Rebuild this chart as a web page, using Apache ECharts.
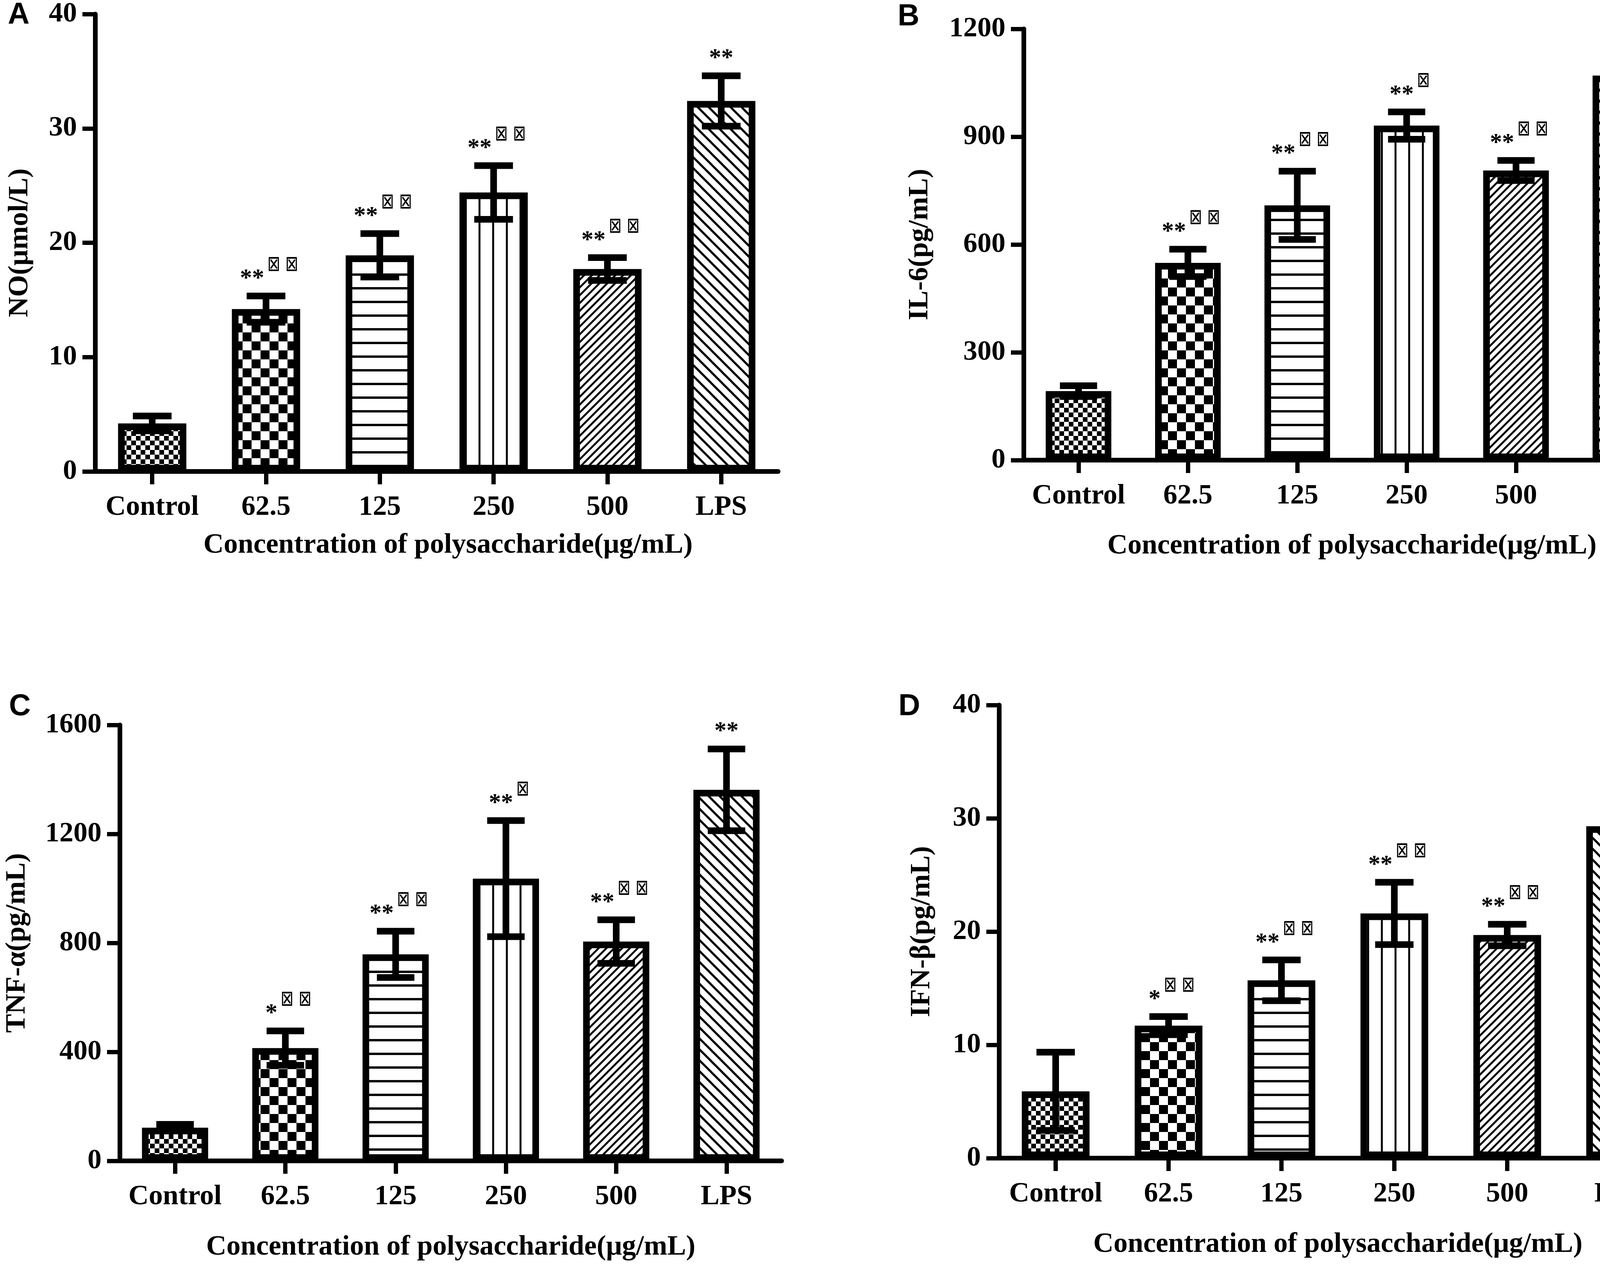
<!DOCTYPE html>
<html><head><meta charset="utf-8">
<script src="https://cdn.jsdelivr.net/npm/echarts@6/dist/echarts.min.js"></script>
<style>html,body{margin:0;padding:0;background:#fff}#c{width:4317px;height:3236px}</style>
</head><body><div id="c"></div>
<script>
// ---- data ----
const categories = ['Control', '62.5', '125', '250', '500', 'LPS'];
const xTitle = 'Concentration of polysaccharide(μg/mL)';

const noMean = [4.2, 14.2, 18.9, 24.4, 17.7, 32.4];
const noErr = [0.65, 1.15, 1.9, 2.35, 1.0, 2.2];
const noStars = ['', '**', '**', '**', '**', '**'];
const noMarks = ['', '⊠ ⊠', '⊠ ⊠', '⊠ ⊠', '⊠ ⊠', ''];

const il6Mean = [192, 549, 709, 931, 806, 1070];
const il6Err = [15, 38, 95, 38, 28, 103];
const il6Stars = ['', '**', '**', '**', '**', '**'];
const il6Marks = ['', '⊠ ⊠', '⊠ ⊠', '⊠', '⊠ ⊠', ''];

const tnfMean = [122, 414, 758, 1036, 805, 1362];
const tnfErr = [12, 63, 85, 213, 80, 150];
const tnfStars = ['', '*', '**', '**', '**', '**'];
const tnfMarks = ['', '⊠ ⊠', '⊠ ⊠', '⊠', '⊠ ⊠', ''];

const ifnMean = [5.9, 11.7, 15.7, 21.6, 19.7, 29.3];
const ifnErr = [3.45, 0.8, 1.8, 2.75, 0.95, 1.7];
const ifnStars = ['', '*', '**', '**', '**', '**'];
const ifnMarks = ['', '⊠ ⊠', '⊠ ⊠', '⊠ ⊠', '⊠ ⊠', ''];

const yNames = ['NO(μmol/L)', 'IL-6(pg/mL)', 'TNF-α(pg/mL)', 'IFN-β(pg/mL)'];
const yMax = [40, 1200, 1600, 40];
const yInterval = [10, 300, 400, 10];
const panelLetters = ['A', 'B', 'C', 'D'];

// ---- styling ----
const SERIF = '"Liberation Serif", "Times New Roman", serif';
const grids = [
  { left: 244, top: 33, width: 1748, height: 1174 },
  { left: 2621, top: 74, width: 1680, height: 1104 },
  { left: 307, top: 1856, width: 1694, height: 1116 },
  { left: 2558, top: 1805, width: 1734, height: 1160 }
];
const yNameGap = [157, 230, 227, 162];
const xNameGap = [153, 184, 185, 185];
const xNamePad = [[0, 0, 0, 58], 0, 0, 0];
const letterPos = [[20, 40], [2298, 44], [23, 1810], [2300, 1810]];

function tile(w, h, draw) {
  const c = document.createElement('canvas');
  c.width = w; c.height = h;
  const g = c.getContext('2d');
  g.fillStyle = '#fff'; g.fillRect(0, 0, w, h);
  g.fillStyle = '#000'; g.strokeStyle = '#000';
  draw(g, w, h);
  return { image: c, repeat: 'repeat' };
}
const patterns = [
  tile(24, 24, g => { g.fillRect(0, 0, 12, 12); g.fillRect(12, 12, 12, 12); }),
  tile(46, 46, g => { g.fillRect(0, 0, 23, 23); g.fillRect(23, 23, 23, 23); }),
  tile(8, 35, g => { g.fillRect(0, 0, 8, 6); }),
  tile(35, 8, g => { g.fillRect(0, 0, 5, 8); }),
  tile(20, 20, g => { g.lineWidth = 5; for (let k = -1; k <= 1; k++) { g.beginPath(); g.moveTo(k * 20 - 5, 25); g.lineTo(k * 20 + 25, -5); g.stroke(); } }),
  tile(28, 28, g => { g.lineWidth = 5.5; for (let k = -1; k <= 1; k++) { g.beginPath(); g.moveTo(k * 28 - 5, -5); g.lineTo(k * 28 + 33, 33); g.stroke(); } })
];

const mctx = document.createElement('canvas').getContext('2d');
function tw(txt, font) { mctx.font = font; return mctx.measureText(txt).width; }
const starFont = 'bold 62px ' + SERIF;
const markFont = '40px "DejaVu Sans"';

function barSeries(idx, mean) {
  return {
    type: 'bar', xAxisIndex: idx, yAxisIndex: idx, barWidth: '60%', z: 2,
    data: mean.map((v, i) => ({
      value: v,
      itemStyle: { color: patterns[i], borderColor: '#000', borderWidth: 17 }
    })),
    silent: true
  };
}

function errSeries(idx, mean, err, stars, marks) {
  return {
    type: 'custom', xAxisIndex: idx, yAxisIndex: idx, z: 5, silent: true,
    data: mean.map((m, i) => [i, m, err[i]]),
    renderItem: (params, api) => {
      const i = api.value(0), m = api.value(1), e = api.value(2);
      const top = api.coord([i, m + e]);
      const bot = api.coord([i, m - e]);
      const band = api.size([1, 0])[0];
      const half = band * 0.17;
      const cx = top[0];
      const st = { stroke: '#000', lineWidth: 17 };
      const children = [
        { type: 'line', shape: { x1: cx, y1: top[1], x2: cx, y2: bot[1] }, style: st },
        { type: 'line', shape: { x1: cx - half, y1: top[1], x2: cx + half, y2: top[1] }, style: st },
        { type: 'line', shape: { x1: cx - half, y1: bot[1], x2: cx + half, y2: bot[1] }, style: st }
      ];
      const s = stars[params.dataIndex], mk = marks[params.dataIndex];
      if (s) {
        const ws = tw(s, starFont);
        const wm = mk ? tw(mk, markFont) : 0;
        const gap = mk ? 8 : 0;
        const W = ws + gap + wm;
        const x0 = cx - W / 2 + (mk ? 8 : 0);
        const sc = top[1] - 53;
        children.push({ type: 'text', x: x0, y: sc + 9, style: { text: s, x: 0, y: 0, font: starFont, fill: '#000', align: 'left', verticalAlign: 'middle' } });
        if (mk) {
          children.push({ type: 'text', x: x0 + ws + gap, y: sc - 26, scaleY: 1.35, style: { text: mk, x: 0, y: 0, font: markFont, fill: '#000', align: 'left', verticalAlign: 'middle' } });
        }
      }
      return { type: 'group', children };
    }
  };
}

const lineSt = { color: '#000', width: 12 };
const labelSt = { color: '#000', fontFamily: SERIF, fontWeight: 'bold', fontSize: 72 };

const option = {
  backgroundColor: '#fff',
  animation: false,
  grid: grids.map(g => Object.assign({ containLabel: false }, g)),
  xAxis: grids.map((g, i) => ({
    type: 'category', gridIndex: i, data: categories,
    axisLine: { show: true, lineStyle: lineSt },
    axisTick: { show: true, alignWithLabel: true, length: 33, lineStyle: { color: '#000', width: 11 } },
    axisLabel: Object.assign({ margin: 56, interval: 0 }, labelSt),
    splitLine: { show: false },
    name: xTitle, nameLocation: 'middle', nameGap: xNameGap[i],
    nameTextStyle: Object.assign({ padding: xNamePad[i] }, labelSt)
  })),
  yAxis: grids.map((g, i) => ({
    type: 'value', gridIndex: i, min: 0, max: yMax[i], interval: yInterval[i],
    axisLine: { show: true, lineStyle: lineSt },
    axisTick: { show: true, length: 33, lineStyle: { color: '#000', width: 11 } },
    axisLabel: Object.assign({ margin: 47, formatter: v => String(v) }, labelSt),
    splitLine: { show: false },
    name: yNames[i], nameLocation: 'middle', nameGap: yNameGap[i], nameRotate: 90,
    nameTextStyle: labelSt
  })),
  graphic: panelLetters.map((t, i) => ({
    type: 'text', x: letterPos[i][0], y: letterPos[i][1],
    style: { text: t, font: 'bold 77px "Liberation Sans", Arial, sans-serif', fill: '#000', align: 'left', verticalAlign: 'middle' }
  })),
  series: [
    barSeries(0, noMean), errSeries(0, noMean, noErr, noStars, noMarks),
    barSeries(1, il6Mean), errSeries(1, il6Mean, il6Err, il6Stars, il6Marks),
    barSeries(2, tnfMean), errSeries(2, tnfMean, tnfErr, tnfStars, tnfMarks),
    barSeries(3, ifnMean), errSeries(3, ifnMean, ifnErr, ifnStars, ifnMarks)
  ]
};

const chart = echarts.init(document.getElementById('c'), null, { renderer: 'canvas' });
chart.setOption(option);
</script>
</body></html>
